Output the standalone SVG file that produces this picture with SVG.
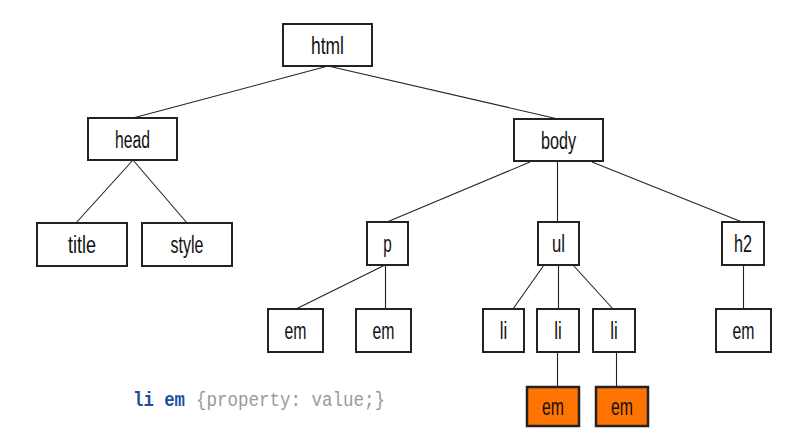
<svg xmlns="http://www.w3.org/2000/svg" width="805" height="437" viewBox="0 0 805 437">
<style>
.box{fill:#fff;stroke:#222;stroke-width:2}
.hl{fill:#ff7300;stroke:#222;stroke-width:2.5}
.lbl{font-family:"Liberation Sans",Arial,sans-serif;font-size:23px;fill:#111;text-anchor:middle}
.edge{stroke:#222;stroke-width:1.1;fill:none}
.code{font-family:"Liberation Mono","DejaVu Sans Mono",monospace;font-size:20px}
</style>
<rect width="805" height="437" fill="#fff"/>
<g id="connectors">
<line class="edge" x1="328" y1="66" x2="133" y2="118"/>
<line class="edge" x1="328" y1="66" x2="558" y2="119"/>
<line class="edge" x1="133" y1="160" x2="76" y2="223"/>
<line class="edge" x1="133" y1="160" x2="187" y2="223"/>
<line class="edge" x1="530" y1="162" x2="387" y2="222"/>
<line class="edge" x1="557.5" y1="162" x2="557.5" y2="222"/>
<line class="edge" x1="592" y1="162" x2="742" y2="222"/>
<line class="edge" x1="385" y1="265" x2="296" y2="309"/>
<line class="edge" x1="385.5" y1="265" x2="385.5" y2="309"/>
<line class="edge" x1="544" y1="265" x2="513" y2="309"/>
<line class="edge" x1="558.5" y1="265" x2="558.5" y2="309"/>
<line class="edge" x1="573" y1="265" x2="613" y2="309"/>
<line class="edge" x1="743.5" y1="265" x2="743.5" y2="309"/>
<line class="edge" x1="557.5" y1="352" x2="557.5" y2="387"/>
<line class="edge" x1="616.5" y1="352" x2="616.5" y2="387"/>
</g>
<g id="html"><rect class="box" x="283" y="24" width="89" height="42"/><text class="lbl" x="327.5" y="53.5" textLength="33" lengthAdjust="spacingAndGlyphs">html</text></g>
<g id="head"><rect class="box" x="88" y="118" width="89" height="42"/><text class="lbl" x="132.5" y="147.5" textLength="35" lengthAdjust="spacingAndGlyphs">head</text></g>
<g id="body"><rect class="box" x="514" y="119" width="89" height="42"/><text class="lbl" x="558.5" y="148.5" textLength="35" lengthAdjust="spacingAndGlyphs">body</text></g>
<g id="title"><rect class="box" x="37" y="223" width="90" height="43"/><text class="lbl" x="82" y="252.5" textLength="28" lengthAdjust="spacingAndGlyphs">title</text></g>
<g id="style"><rect class="box" x="142" y="223" width="90" height="43"/><text class="lbl" x="187" y="252.5" textLength="33" lengthAdjust="spacingAndGlyphs">style</text></g>
<g id="p"><rect class="box" x="367" y="222" width="41" height="43"/><text class="lbl" x="387.5" y="251.5" textLength="8.5" lengthAdjust="spacingAndGlyphs">p</text></g>
<g id="ul"><rect class="box" x="538" y="222" width="41" height="43"/><text class="lbl" x="558.5" y="251.5" textLength="13" lengthAdjust="spacingAndGlyphs">ul</text></g>
<g id="h2"><rect class="box" x="722" y="222" width="42" height="43"/><text class="lbl" x="743" y="251.5" textLength="18" lengthAdjust="spacingAndGlyphs">h2</text></g>
<g id="p-em1"><rect class="box" x="268" y="309" width="55" height="43"/><text class="lbl" x="295.5" y="338.5" textLength="22" lengthAdjust="spacingAndGlyphs">em</text></g>
<g id="p-em2"><rect class="box" x="356" y="309" width="55" height="43"/><text class="lbl" x="383.5" y="338.5" textLength="22" lengthAdjust="spacingAndGlyphs">em</text></g>
<g id="li1"><rect class="box" x="483" y="309" width="41" height="43"/><text class="lbl" x="503.5" y="338.5" textLength="7.5" lengthAdjust="spacingAndGlyphs">li</text></g>
<g id="li2"><rect class="box" x="537" y="309" width="42" height="43"/><text class="lbl" x="558" y="338.5" textLength="7.5" lengthAdjust="spacingAndGlyphs">li</text></g>
<g id="li3"><rect class="box" x="593" y="309" width="42" height="43"/><text class="lbl" x="614" y="338.5" textLength="7.5" lengthAdjust="spacingAndGlyphs">li</text></g>
<g id="h2-em"><rect class="box" x="716" y="309" width="55" height="43"/><text class="lbl" x="743.5" y="338.5" textLength="22" lengthAdjust="spacingAndGlyphs">em</text></g>
<g id="li2-em"><rect class="hl" x="527" y="387" width="52" height="39"/><text class="lbl" x="553" y="415" textLength="22" lengthAdjust="spacingAndGlyphs">em</text></g>
<g id="li3-em"><rect class="hl" x="596" y="387" width="52" height="39"/><text class="lbl" x="622" y="415" textLength="22" lengthAdjust="spacingAndGlyphs">em</text></g>
<g id="code">
<text class="code" x="133" y="406" fill="#1b4f9c" font-weight="bold" textLength="52" lengthAdjust="spacingAndGlyphs">li em</text>
<text class="code" x="196" y="406" fill="#9a9a9a" textLength="189" lengthAdjust="spacingAndGlyphs">{property: value;}</text>
</g>
</svg>
